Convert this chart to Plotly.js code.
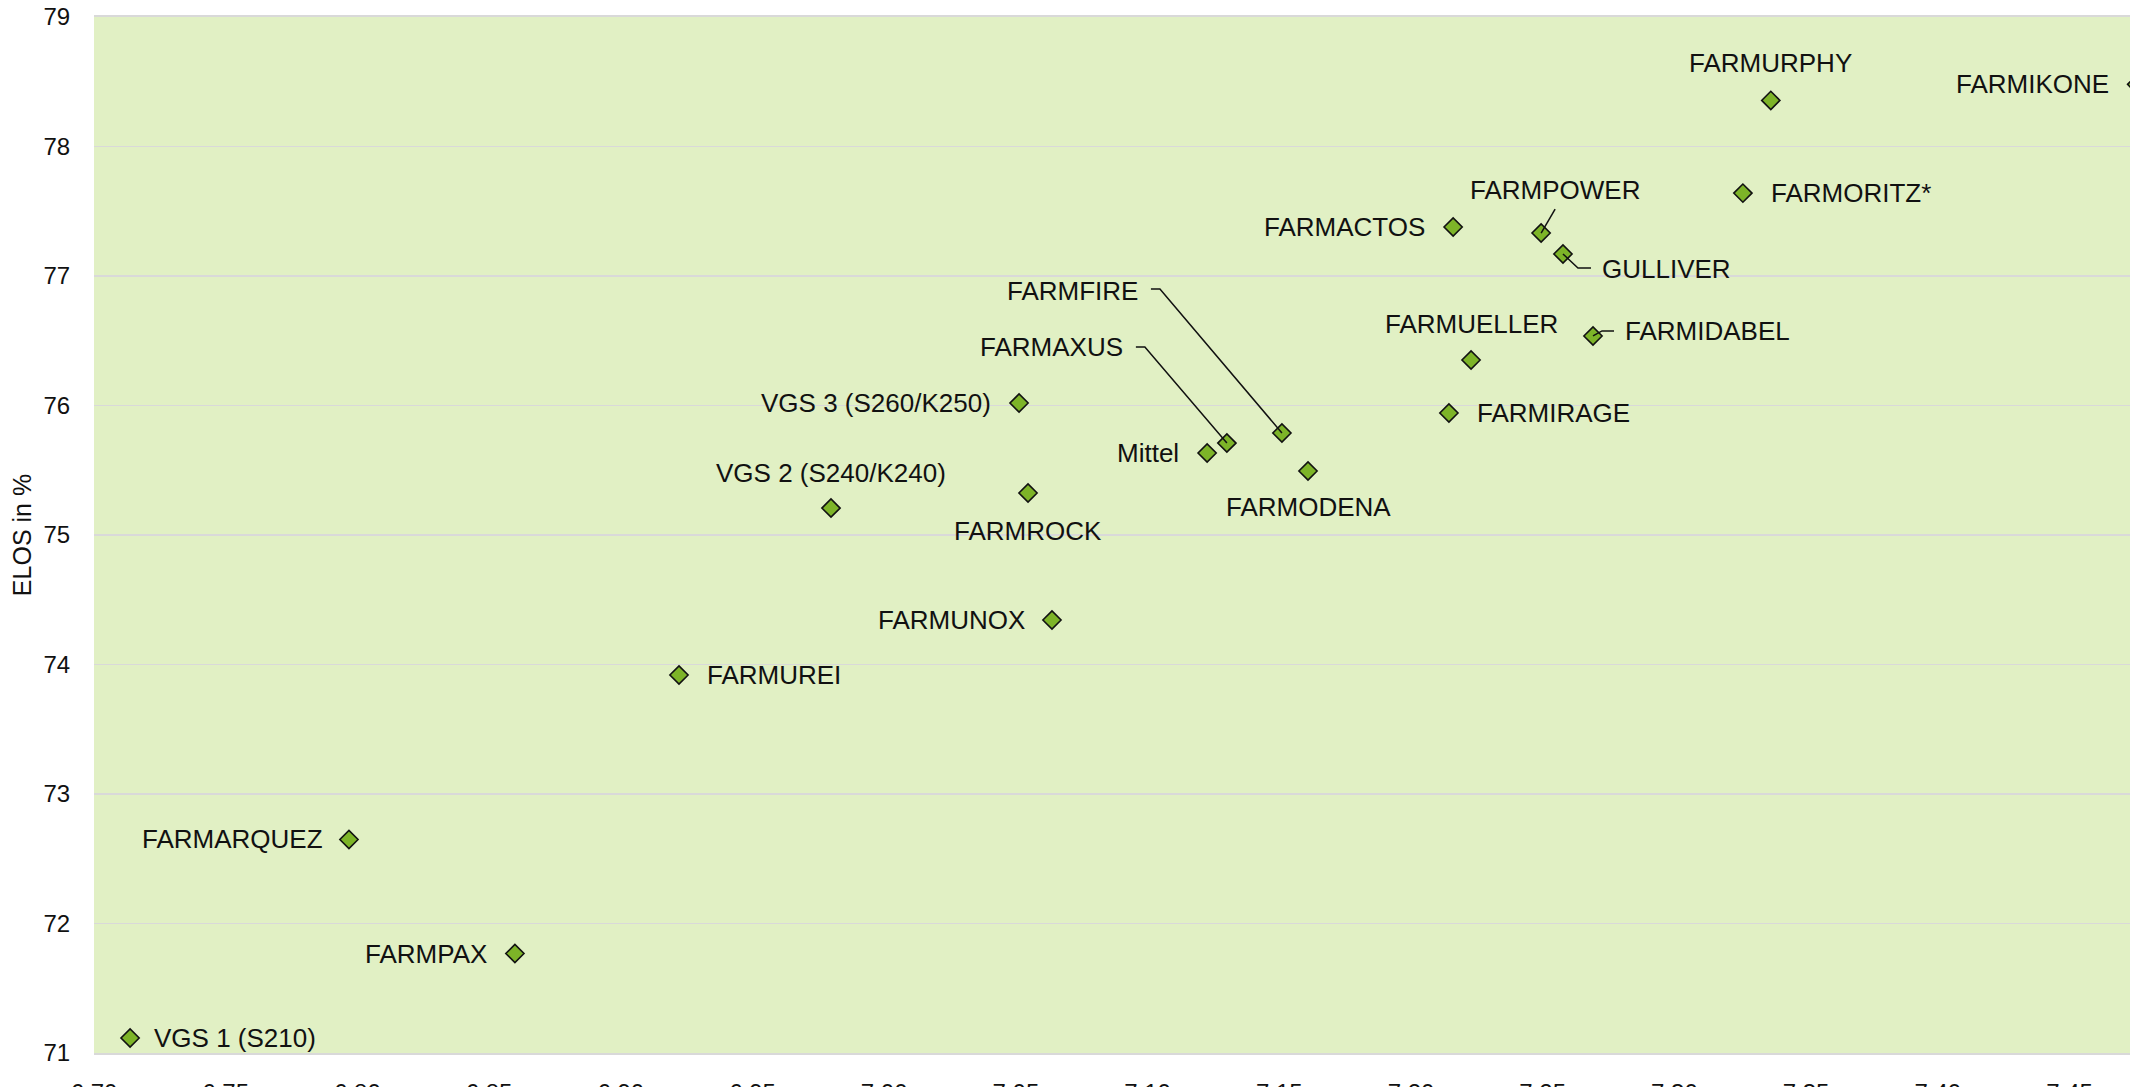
<!DOCTYPE html>
<html>
<head>
<meta charset="utf-8">
<script src="https://cdn.plot.ly/plotly-3.0.1.min.js"></script>
<style>
  html, body { margin: 0; padding: 0; background: #fff; overflow: hidden; width: 2130px; height: 1087px; }
  #chart { width: 2160px; height: 1087px; }
</style>
</head>
<body>
<div id="chart"></div>
<script>
// ---- data ----
const varieties = [
  "FARMURPHY", "FARMIKONE", "FARMORITZ*", "FARMACTOS", "FARMPOWER", "GULLIVER",
  "FARMIDABEL", "FARMUELLER", "FARMIRAGE", "FARMFIRE", "FARMAXUS", "Mittel",
  "FARMODENA", "VGS 3 (S260/K250)", "VGS 2 (S240/K240)", "FARMROCK", "FARMUNOX",
  "FARMUREI", "FARMARQUEZ", "FARMPAX", "VGS 1 (S210)"
];
const xValues = [
  7.3366, 7.4755, 7.3260, 7.2160, 7.2494, 7.2577,
  7.2691, 7.2228, 7.2144, 7.1510, 7.1301, 7.1226,
  7.1609, 7.0512, 6.9798, 7.0546, 7.0637,
  6.9221, 6.7968, 6.8598, 6.7137
];
const yValues = [
  78.356, 78.480, 77.640, 77.378, 77.332, 77.170,
  76.537, 76.351, 75.942, 75.788, 75.710, 75.633,
  75.494, 76.019, 75.208, 75.324, 74.344,
  73.919, 72.649, 71.768, 71.116
];
const yTitle = "ELOS in %";
const xTickStep = 0.05;
const yTickStep = 1;

// ---- label placement (layout only: pixel offsets from each point) ----
const labelLayout = {
  "FARMURPHY":         {anchor: "center", dx: 0,    dy: 37},
  "FARMIKONE":         {anchor: "right",  dx: -26,  dy: 0},
  "FARMORITZ*":        {anchor: "left",   dx: 26,   dy: 0},
  "FARMACTOS":         {anchor: "right",  dx: -26,  dy: 0},
  "FARMPOWER":         {anchor: "center", dx: 14,   dy: 43,  lead: [[0,0],[14,24]]},
  "GULLIVER":          {anchor: "left",   dx: 37,   dy: -15, lead: [[0,0],[15,-14],[28,-14]]},
  "FARMIDABEL":        {anchor: "left",   dx: 30,   dy: 5,   lead: [[0,0],[9,5],[21,5]]},
  "FARMUELLER":        {anchor: "center", dx: 0,    dy: 36},
  "FARMIRAGE":         {anchor: "left",   dx: 26,   dy: 0},
  "FARMFIRE":          {anchor: "right",  dx: -142, dy: 142, lead: [[0,0],[-122,144],[-131,144]]},
  "FARMAXUS":          {anchor: "right",  dx: -102, dy: 96,  lead: [[0,0],[-82,96],[-91,96]]},
  "Mittel":            {anchor: "right",  dx: -26,  dy: 0},
  "FARMODENA":         {anchor: "center", dx: 0,    dy: -36},
  "VGS 3 (S260/K250)": {anchor: "right",  dx: -26,  dy: 0},
  "VGS 2 (S240/K240)": {anchor: "center", dx: 0,    dy: 35},
  "FARMROCK":          {anchor: "center", dx: 0,    dy: -38},
  "FARMUNOX":          {anchor: "right",  dx: -25,  dy: 0},
  "FARMUREI":          {anchor: "left",   dx: 26,   dy: 0},
  "FARMARQUEZ":        {anchor: "right",  dx: -24,  dy: 0},
  "FARMPAX":           {anchor: "right",  dx: -26,  dy: 0},
  "VGS 1 (S210)":      {anchor: "left",   dx: 22,   dy: 0}
};

const FONT = '"Liberation Sans", Arial, sans-serif';
const W = 2160, H = 1087;
const M = {l: 94, r: 0, t: 17, b: 34};
const pxPerUnitX = 2634;
const xMin = 6.70;
const xMax = xMin + (W - M.l - M.r) / pxPerUnitX;

const annotations = [];
const shapes = [];
varieties.forEach((name, i) => {
  const L = labelLayout[name];
  annotations.push({
    x: xValues[i], y: yValues[i], xref: "x", yref: "y",
    text: name, showarrow: false,
    xanchor: L.anchor, yanchor: "middle",
    xshift: L.dx, yshift: L.dy,
    font: {family: FONT, size: 26, color: "#111"}
  });
  if (L.lead) {
    const path = L.lead.map((p, k) => (k === 0 ? "M" : "L") + p[0] + "," + p[1]).join(" ");
    shapes.push({
      type: "path", xref: "x", yref: "y",
      xsizemode: "pixel", ysizemode: "pixel",
      xanchor: xValues[i], yanchor: yValues[i],
      path: path,
      line: {color: "#111", width: 1.5},
      layer: "above"
    });
  }
});

const trace = {
  type: "scatter", mode: "markers",
  x: xValues, y: yValues, text: varieties,
  cliponaxis: true,
  marker: {symbol: "diamond", size: 14, color: "#7db428", line: {color: "#111", width: 1.6}},
  hoverinfo: "text+x+y"
};

const layout = {
  width: W, height: H,
  margin: M,
  paper_bgcolor: "#ffffff",
  plot_bgcolor: "#e1f0c4",
  showlegend: false,
  font: {family: FONT, color: "#111"},
  xaxis: {
    range: [xMin, xMax],
    dtick: xTickStep, tick0: 6.70, tickformat: ".2f",
    showgrid: false, zeroline: false,
    showline: true, linecolor: "#d9d9d9", linewidth: 2, mirror: true,
    ticks: "outside", ticklen: 17, tickcolor: "rgba(0,0,0,0)",
    tickfont: {family: FONT, size: 24, color: "#111"}
  },
  yaxis: {
    range: [71, 79],
    dtick: yTickStep, tick0: 71,
    showgrid: true, gridcolor: "#d9d9d9", gridwidth: 1.5,
    zeroline: false, showline: false,
    ticks: "outside", ticklen: 18, tickcolor: "rgba(0,0,0,0)",
    tickfont: {family: FONT, size: 24, color: "#111"},
    title: {text: yTitle, font: {family: FONT, size: 25, color: "#111"}, standoff: 4}
  },
  annotations: annotations,
  shapes: shapes
};

Plotly.newPlot("chart", [trace], layout, {displayModeBar: false, staticPlot: true});
</script>
</body>
</html>
